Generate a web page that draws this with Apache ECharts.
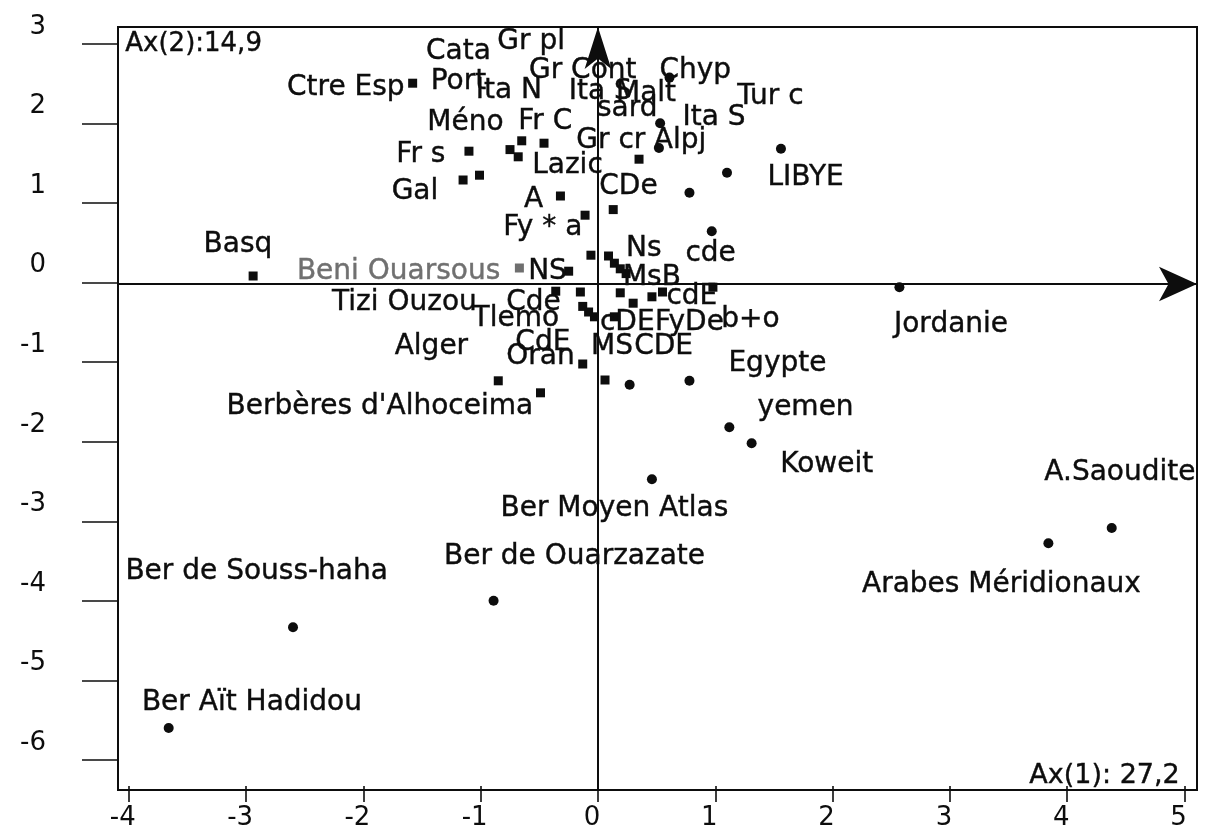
<!DOCTYPE html>
<html>
<head>
<meta charset="utf-8">
<script src="https://cdn.jsdelivr.net/npm/echarts@6/dist/echarts.min.js"></script>
<style>
  html, body { margin: 0; background: #fff; }
  #chart { width: 1209px; height: 831px; }
</style>
</head>
<body>
<div id="chart"></div>
<script>
// tick range of the two factor axes
const xTicks = [-4, 5];
const yTicks = [-6, 3];

// populations drawn as small squares
const squarePts = [
  [-1.58, 2.51], [-1.10, 1.66], [-1.15, 1.30], [-1.01, 1.36], [-0.65, 1.79],
  [-0.75, 1.68], [-0.68, 1.59], [-0.46, 1.76], [-0.32, 1.10], [-0.11, 0.86],
  [0.13, 0.93], [0.35, 1.56], [-2.94, 0.10], [-0.25, 0.16], [-0.06, 0.36],
  [0.09, 0.35], [0.14, 0.26], [0.19, 0.19], [0.24, 0.13], [-0.36, -0.09],
  [-0.15, -0.10], [-0.13, -0.28], [-0.08, -0.35], [-0.03, -0.41], [0.19, -0.11],
  [0.30, -0.24], [0.14, -0.41], [0.46, -0.16], [0.55, -0.10], [0.98, -0.04],
  [-0.13, -1.00], [0.06, -1.20], [-0.85, -1.21], [-0.49, -1.36]
];
const greySquarePts = [[-0.67, 0.20]];

// populations drawn as dots
const dotPts = [
  [0.61, 2.58], [0.53, 2.01], [0.52, 1.70], [1.56, 1.69], [1.10, 1.39],
  [0.78, 1.14], [0.97, 0.66], [2.57, -0.04], [0.27, -1.26], [0.78, -1.21],
  [1.12, -1.79], [1.31, -1.99], [4.38, -3.05], [3.84, -3.24], [0.46, -2.44],
  [-0.89, -3.96], [-2.60, -4.29], [-3.66, -5.55]
];

// text labels [name, x, y]
const labels = [
  ['Cata', -1.19, 2.90], ['Gr pl', -0.57, 3.03], ['Ctre Esp', -2.15, 2.45],
  ['Port', -1.19, 2.53], ['Ita N', -0.76, 2.41], ['Gr Cont', -0.13, 2.66],
  ['Ita S', 0.02, 2.40], ['Malt', 0.41, 2.38], ['sard', 0.25, 2.19],
  ['Chyp', 0.83, 2.66], ['Tur c', 1.47, 2.34], ['Ita S', 0.99, 2.08],
  ['Méno', -1.13, 2.01], ['Fr C', -0.45, 2.03], ['Gr cr', 0.11, 1.79],
  ['Alpj', 0.70, 1.79], ['Fr s', -1.51, 1.61], ['Lazic', -0.26, 1.48],
  ['LIBYE', 1.77, 1.33], ['Gal', -1.56, 1.15], ['CDe', 0.26, 1.21],
  ['A', -0.55, 1.05], ['Fy * a', -0.47, 0.70], ['Basq', -3.07, 0.49],
  ['Ns', 0.39, 0.44], ['cde', 0.96, 0.38], ['NS', -0.43, 0.15],
  ['MsB', 0.46, 0.08], ['Tizi Ouzou', -1.65, -0.24], ['Cde', -0.55, -0.24],
  ['cdE', 0.80, -0.16], ['Tlemo', -0.70, -0.43], ['cDE', 0.25, -0.48],
  ['FyDe', 0.78, -0.48], ['b+o', 1.30, -0.45], ['CdE', -0.47, -0.73],
  ['Alger', -1.42, -0.78], ['MS', 0.12, -0.79], ['CDE', 0.56, -0.78],
  ['Oran', -0.49, -0.91], ['Egypte', 1.53, -1.00], ['Berbères d\'Alhoceima', -1.86, -1.53],
  ['yemen', 1.77, -1.55], ['Koweit', 1.95, -2.26], ['A.Saoudite', 4.45, -2.36],
  ['Ber Moyen Atlas', 0.14, -2.81], ['Ber de Ouarzazate', -0.20, -3.41],
  ['Ber de Souss-haha', -2.91, -3.60], ['Arabes Méridionaux', 3.44, -3.76],
  ['Ber Aït Hadidou', -2.95, -5.24], ['Jordanie', 3.01, -0.51]
];
const greyLabels = [['Beni Ouarsous', -1.70, 0.15]];
const axis2Label = ['Ax(2):14,9', -4.03, 3.0];
const axis1Label = ['Ax(1): 27,2', 4.96, -6.15];

const FONT = 'DejaVu Sans';
const INK = '#0d0d0d';

const labelItems = labels.map(l => ({ name: l[0], value: [l[1], l[2]] }))
  .concat(greyLabels.map(l => ({ name: l[0], value: [l[1], l[2]], label: { color: '#707070', textBorderColor: '#707070' } })))
  .concat([
    { name: axis2Label[0], value: [axis2Label[1], axis2Label[2]], label: { align: 'left', fontSize: 26 } },
    { name: axis1Label[0], value: [axis1Label[1], axis1Label[2]], label: { align: 'right', fontSize: 27 } }
  ]);

const chart = echarts.init(document.getElementById('chart'));
chart.setOption({
  animation: false,
  backgroundColor: '#fff',
  grid: [
    { left: 118, top: 27, right: 12, bottom: 41, show: true, borderColor: INK, borderWidth: 2, backgroundColor: 'transparent' },
    { left: 128.8, top: 44, right: 24.5, bottom: 67 }
  ],
  xAxis: [
    {
      gridIndex: 0, type: 'value', min: -4.092, max: 5.107,
      axisLine: { show: true, onZero: true, symbol: ['none', 'arrow'], symbolSize: [26, 38], symbolOffset: [0, 0], lineStyle: { color: INK, width: 2 } },
      axisTick: { show: false }, axisLabel: { show: false }, splitLine: { show: false }
    },
    {
      gridIndex: 1, type: 'value', min: xTicks[0], max: xTicks[1], interval: 1,
      position: 'bottom', offset: 26,
      axisLine: { show: false, onZero: false },
      axisTick: { show: true, length: 16, lineStyle: { color: INK, width: 1.6 } },
      axisLabel: { margin: 19, fontFamily: FONT, fontSize: 26, color: INK, padding: [0, 12, 0, 0] },
      splitLine: { show: false }
    }
  ],
  yAxis: [
    {
      gridIndex: 0, type: 'value', min: -6.325, max: 3.2125,
      axisLine: { show: true, onZero: true, symbol: ['none', 'arrow'], symbolSize: [20, 42], symbolOffset: [0, 0], lineStyle: { color: INK, width: 2 } },
      axisTick: { show: false }, axisLabel: { show: false }, splitLine: { show: false }
    },
    {
      gridIndex: 1, type: 'value', min: yTicks[0], max: yTicks[1], interval: 1,
      position: 'left', offset: 10.8,
      axisLine: { show: false, onZero: false },
      axisTick: { show: true, length: 36, lineStyle: { color: INK, width: 1.6 } },
      axisLabel: { margin: 72, fontFamily: FONT, fontSize: 26, color: INK, verticalAlign: 'bottom', padding: [0, 0, 4, 0] },
      splitLine: { show: false }
    }
  ],
  series: [
    {
      type: 'scatter', xAxisIndex: 0, yAxisIndex: 0, symbol: 'rect', symbolSize: 9,
      itemStyle: { color: INK, opacity: 1 }, data: squarePts, silent: true
    },
    {
      type: 'scatter', xAxisIndex: 0, yAxisIndex: 0, symbol: 'rect', symbolSize: 9,
      itemStyle: { color: '#6f6f6f', opacity: 1 }, data: greySquarePts, silent: true
    },
    {
      type: 'scatter', xAxisIndex: 0, yAxisIndex: 0, symbol: 'circle', symbolSize: 10,
      itemStyle: { color: INK, opacity: 1 }, data: dotPts, silent: true
    },
    {
      type: 'scatter', xAxisIndex: 0, yAxisIndex: 0, symbolSize: 1,
      itemStyle: { color: 'rgba(0,0,0,0)', opacity: 1 }, silent: true,
      label: {
        show: true, position: 'inside', formatter: '{b}', align: 'center', verticalAlign: 'middle',
        fontFamily: FONT, fontSize: 28, color: INK, textBorderColor: INK, textBorderWidth: 0.4
      },
      data: labelItems
    }
  ]
});
</script>
</body>
</html>
